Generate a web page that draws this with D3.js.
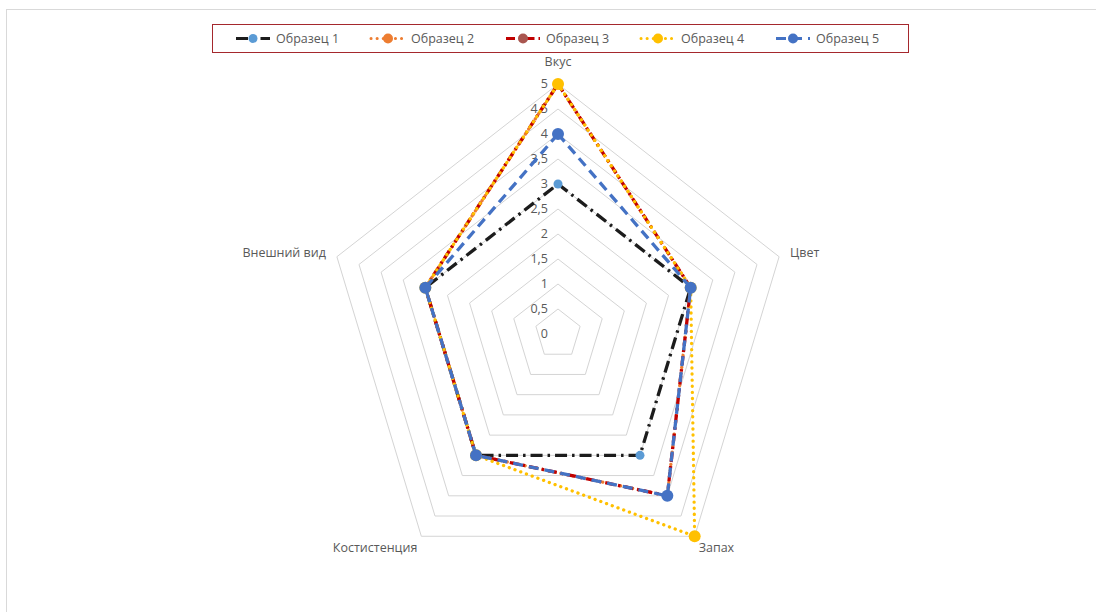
<!DOCTYPE html>
<html>
<head>
<meta charset="utf-8">
<script src="https://cdn.jsdelivr.net/npm/d3@7"></script>
<style>
  html, body { margin: 0; padding: 0; background: #fff; }
  svg { display: block; font-family: "Open Sans", "Noto Sans", sans-serif; }
</style>
</head>
<body>
<div id="chart"></div>
<script>
// axes, clockwise from the top
const categories = ["Вкус", "Цвет", "Запах", "Костистенция", "Внешний вид"];
const seriesNames = ["Образец 1", "Образец 2", "Образец 3", "Образец 4", "Образец 5"];
const sample1 = [3, 3, 3, 3, 3];
const sample2 = [5, 3, 4, 3, 3];
const sample3 = [5, 3, 4, 3, 3];
const sample4 = [5, 3, 5, 3, 3];
const sample5 = [4, 3, 4, 3, 3];
const tickValues = [0, 0.5, 1, 1.5, 2, 2.5, 3, 3.5, 4, 4.5, 5];

const width = 1096, height = 612;
const cx = 558, cy = 334;
const squeeze = 0.93; // the picture is a little narrower than tall

const series = [
  { name: seriesNames[0], values: sample1, stroke: "#1c1c1c", marker: "#5b9bd5", dash: "12,5,2.5,5", cap: "butt", r: 4.5 },
  { name: seriesNames[1], values: sample2, stroke: "#ed7d31", marker: "#ed7d31", dash: "0.1,6", cap: "round", r: 5 },
  { name: seriesNames[2], values: sample3, stroke: "#c00000", marker: "#a9564f", dash: "9,4,2.5,4", cap: "butt", r: 5 },
  { name: seriesNames[3], values: sample4, stroke: "#ffc000", marker: "#ffc000", dash: "0.1,6", cap: "round", r: 6 },
  { name: seriesNames[4], values: sample5, stroke: "#4472c4", marker: "#4472c4", dash: "10,6", cap: "butt", r: 6 }
];

const svg = d3.select("#chart").append("svg")
  .attr("width", width)
  .attr("height", height);

// chart area frame
svg.append("rect")
  .attr("x", 6.5).attr("y", 9.5)
  .attr("width", width).attr("height", height)
  .attr("fill", "#fff")
  .attr("stroke", "#d9d9d9");

const r = d3.scaleLinear().domain([0, 5]).range([0, 250]);
const angle = d3.scalePoint().domain(categories).range([0, 2 * Math.PI * 4 / 5]);

const px = (cat, v) => cx + r(v) * Math.sin(angle(cat)) * squeeze;
const py = (cat, v) => cy - r(v) * Math.cos(angle(cat));

// grid rings
const grid = svg.append("g");
grid.selectAll("polygon")
  .data(tickValues.filter(t => t > 0))
  .enter().append("polygon")
  .attr("points", t => categories.map(c => [px(c, t), py(c, t)].join(",")).join(" "))
  .attr("fill", "none")
  .attr("stroke", "#d4d4d4")
  .attr("stroke-width", 1);

// value labels along the top axis
svg.append("g").selectAll("text")
  .data(tickValues)
  .enter().append("text")
  .attr("x", cx - 10)
  .attr("y", t => py(categories[0], t))
  .attr("dy", "0.35em")
  .attr("text-anchor", "end")
  .attr("font-size", 12.5)
  .attr("fill", "#595959")
  .text(t => d3.format(".1~f")(t).replace(".", ","));

// category labels
svg.append("g").selectAll("text")
  .data(categories)
  .enter().append("text")
  .attr("x", c => {
    const s = Math.sin(angle(c));
    return px(c, 5) + (Math.abs(s) > 0.9 ? 11 : Math.abs(s) > 0.1 ? 4 : 0) * Math.sign(s);
  })
  .attr("y", c => {
    const co = Math.cos(angle(c));
    return py(c, 5) + (co > 0.9 ? -22 : co < -0.5 ? 11 : -4);
  })
  .attr("dy", "0.35em")
  .attr("text-anchor", c => {
    const s = Math.sin(angle(c));
    return s > 0.1 ? "start" : s < -0.1 ? "end" : "middle";
  })
  .attr("font-size", 12.5)
  .attr("fill", "#595959")
  .text(c => c);

// series
const line = d3.line().x(d => d[0]).y(d => d[1]).curve(d3.curveLinearClosed);

const layers = svg.append("g").selectAll("g")
  .data(series)
  .enter().append("g");

layers.append("path")
  .attr("d", s => line(categories.map((c, i) => [px(c, s.values[i]), py(c, s.values[i])])))
  .attr("fill", "none")
  .attr("stroke", s => s.stroke)
  .attr("stroke-width", 3.3)
  .attr("stroke-dasharray", s => s.dash)
  .attr("stroke-linecap", s => s.cap);

layers.selectAll("circle")
  .data(s => categories.map((c, i) => ({ c, v: s.values[i], s })))
  .enter().append("circle")
  .attr("cx", d => px(d.c, d.v))
  .attr("cy", d => py(d.c, d.v))
  .attr("r", d => d.s.r)
  .attr("fill", d => d.s.marker);

// legend
const legend = svg.append("g");
legend.append("rect")
  .attr("x", 212.5).attr("y", 24.5)
  .attr("width", 696).attr("height", 28)
  .attr("fill", "#fff")
  .attr("stroke", "#a5282d")
  .attr("stroke-width", 1);

const itemX = d3.scalePoint().domain(seriesNames).range([236, 776]);
const ly = 38.5;
const items = legend.selectAll("g.item")
  .data(series)
  .enter().append("g")
  .attr("class", "item")
  .attr("transform", s => `translate(${itemX(s.name)},${ly})`);

items.append("line")
  .attr("x1", 0).attr("x2", 34)
  .attr("y1", 0).attr("y2", 0)
  .attr("stroke", s => s.stroke)
  .attr("stroke-width", 3)
  .attr("stroke-dasharray", s => s.dash)
  .attr("stroke-linecap", s => s.cap);

items.append("circle")
  .attr("cx", 17).attr("cy", 0)
  .attr("r", s => Math.min(s.r, 5))
  .attr("fill", s => s.marker);

items.append("text")
  .attr("x", 40)
  .attr("dy", "0.35em")
  .attr("font-size", 12.5)
  .attr("fill", "#595959")
  .text(s => s.name);
</script>
</body>
</html>
